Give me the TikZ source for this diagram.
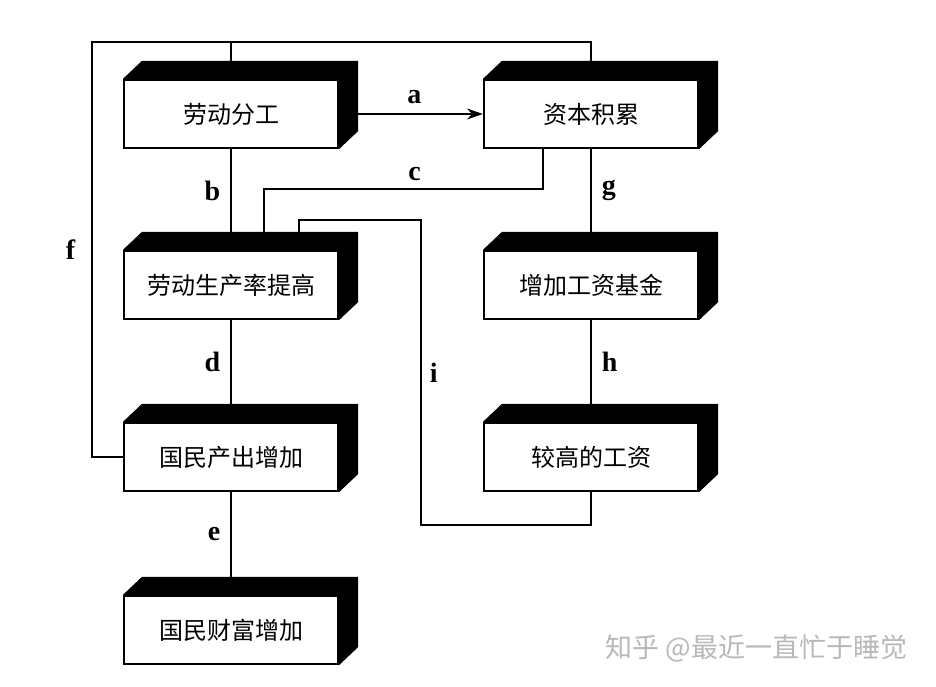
\documentclass[tikz,border=0pt]{standalone}
\usepackage{fontspec}
\setmainfont{Liberation Serif}
\newfontfamily\cjk{Noto Sans CJK SC}
\usetikzlibrary{arrows.meta}

\tikzset{
  blockbox/.style={draw, line width=2.2pt, fill=white, minimum width=214pt,
    minimum height=68pt, inner sep=0pt, font=\cjk\fontsize{24}{27}\selectfont},
  link/.style={line width=1.5pt},
  tag/.style={font=\bfseries\fontsize{28}{30}\selectfont, inner sep=2pt}
}

\begin{document}
\begin{tikzpicture}[x=1pt,y=-1pt]

            \useasboundingbox (0,0) rectangle (936,686);

            % blocks
            \node[blockbox] (div)    at (231,114) {劳动分工};
            \node[blockbox] (cap)    at (591,114) {资本积累};
            \node[blockbox] (prod)   at (231,285) {劳动生产率提高};
            \node[blockbox] (fund)   at (591,285) {增加工资基金};
            \node[blockbox] (out)    at (231,457) {国民产出增加};
            \node[blockbox] (wage)   at (591,457) {较高的工资};
            \node[blockbox] (wealth) at (231,630) {国民财富增加};

            % black top and side
            \foreach \n in {div,cap,prod,fund,out,wage,wealth}
                \fill[black] (\n.north west) -- ++(19,-18)
                    -- ([xshift=19pt,yshift=18pt]\n.north east)
                    -- ([xshift=19pt,yshift=18pt]\n.south east)
                    -- (\n.south east) -- (\n.north east) -- cycle;

            \coordinate (fcorner) at (92,42);

            % links
            \draw[link] (out.west) -| node[pos=0.75,left=14pt,tag] {f} (fcorner)
                -| ([yshift=18pt]cap.north);
            \draw[link] (div.north |- fcorner) -- ([yshift=18pt]div.north);
            \draw[link,-{Stealth[length=16pt,width=11pt]}] ([xshift=19pt]div.east)
                -- node[above=7pt,pos=0.45,tag] {a} (cap.west);
            \draw[link] (div.south) -- node[left=8pt,tag] {b} ([yshift=18pt]prod.north);
            \draw[link] ([xshift=-48pt]cap.south) -- ++(0,40)
                -| node[pos=0.23,above=6pt,tag] {c} ([xshift=33pt,yshift=18pt]prod.north);
            \draw[link] (prod.south) -- node[left=8pt,tag] {d} ([yshift=18pt]out.north);
            \draw[link] (out.south) -- node[left=8pt,tag] {e} ([yshift=18pt]wealth.north);
            \draw[link] (cap.south) -- node[right=8pt,tag] {g} ([yshift=18pt]fund.north);
            \draw[link] (fund.south) -- node[right=8pt,tag] {h} ([yshift=18pt]wage.north);
            \draw[link] (wage.south) -- ++(0,33) -| node[pos=0.75,right=6pt,tag] {i} ++(-170,-305)
                -| ([xshift=68pt,yshift=18pt]prod.north);

            % watermark
            \node[font=\cjk\fontsize{27}{30}\selectfont, text=black!28, anchor=west]
                (mark) at (602,648) {知乎 @最近一直忙于睡觉};

\end{tikzpicture}
\end{document}
